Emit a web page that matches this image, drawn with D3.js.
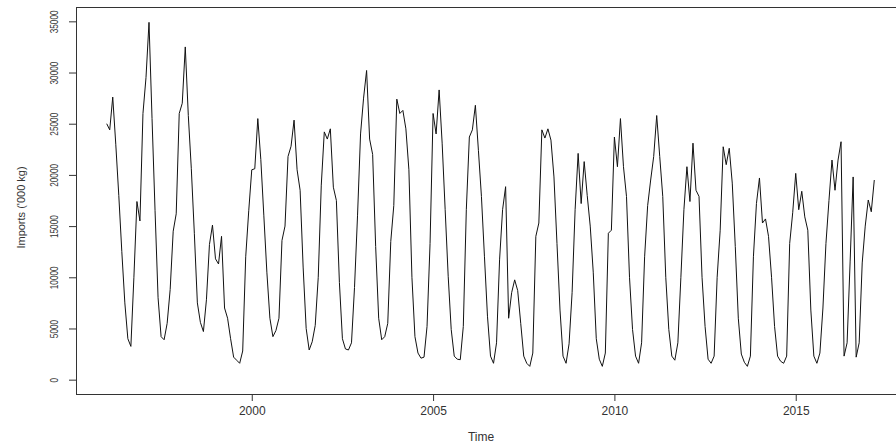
<!DOCTYPE html>
<html>
<head>
<meta charset="utf-8">
<script src="https://cdn.jsdelivr.net/npm/d3@7"></script>
<style>
  body { margin: 0; background: #fff; }
  svg { display: block; }
  text { font-family: "Liberation Sans", Arial, sans-serif; fill: #333; }
  .axis path, .axis line { stroke: #333; }
</style>
</head>
<body>
<svg width="896" height="446"></svg>
<script>
// monthly imports, Jan 1996 .. Mar 2017
var startYear = 1996;
var imports = [
  25000, 24400, 27600, 23000, 18000, 12500, 7500, 4000, 3250, 10000, 17400, 15500,
  26000, 29500, 34900, 25500, 16500, 8000, 4200, 3900, 5500, 8800, 14500, 16200,
  26000, 27000, 32500, 25800, 20600, 14300, 7500, 5600, 4700, 7800, 13200, 15100,
  11800, 11300, 14000, 7000, 6000, 4000, 2200, 1900, 1600, 2800, 12000, 16500,
  20500, 20600, 25500, 21500, 16000, 10500, 6000, 4200, 4800, 6000, 13600, 15000,
  21800, 22800, 25350, 20500, 18500, 11000, 5000, 2900, 3700, 5300, 10000, 19000,
  24200, 23500, 24500, 18800, 17500, 9500, 4000, 3000, 2900, 3600, 9000, 16000,
  24000, 27500, 30200, 23500, 22000, 13000, 6000, 3900, 4200, 5500, 13500, 17000,
  27400, 26000, 26300, 24500, 20500, 10000, 4200, 2600, 2100, 2200, 5200, 13300,
  26000, 24000, 28300, 23100, 16600, 10100, 4900, 2300, 2000, 1950, 5200, 16600,
  23700, 24400, 26800, 22400, 17900, 12000, 6200, 2300, 1600, 3600, 11700, 16600,
  18850, 6000, 8500, 9750, 8700, 5500, 2300, 1600, 1300, 2600, 14000, 15300,
  24400, 23600, 24500, 23400, 19800, 13300, 6800, 2300, 1600, 3500, 8500, 16600,
  22100, 17200, 21300, 18000, 15000, 10500, 4000, 2000, 1300, 2600, 14300, 14600,
  23700, 20800, 25500, 20800, 17900, 10000, 4900, 2300, 1600, 3600, 12000, 17000,
  19500, 21800, 25800, 21800, 17900, 10000, 4900, 2300, 1900, 3600, 10000, 16600,
  20800, 17400, 23100, 18500, 17900, 10000, 5200, 2000, 1600, 2300, 10000, 14600,
  22750, 21000, 22600, 19200, 13000, 6000, 2500, 1700, 1300, 2300, 12000, 17200,
  19700, 15300, 15700, 14000, 10000, 5200, 2300, 1800, 1600, 2300, 13300, 16300,
  20150, 16600, 18400, 15900, 14600, 6800, 2300, 1600, 2600, 7000, 13300, 17500,
  21450, 18500, 21450, 23240, 2300, 3600, 11500, 19800, 2200, 3600, 11400, 15000,
  17550, 16400, 19500
];
var xTicks = [2000, 2005, 2010, 2015];
var yTicks = [0, 5000, 10000, 15000, 20000, 25000, 30000, 35000];
var xTitle = "Time";
var yTitle = "Imports ('000 kg)";

var svg = d3.select("svg"),
    margin = {top: 7, right: -9, bottom: 52, left: 76},
    width = +svg.attr("width") - margin.left - margin.right,
    height = +svg.attr("height") - margin.top - margin.bottom;

var data = imports.map(function(v, i) {
  return {t: startYear + i / 12, v: v};
});

// R style: 4% padding on both axes, ylim = c(0, 35000)
var tExt = d3.extent(data, function(d) { return d.t; }),
    tPad = (tExt[1] - tExt[0]) * 0.04,
    yPad = 35000 * 0.04;

var x = d3.scaleLinear().domain([tExt[0] - tPad, tExt[1] + tPad]).range([0, width]);
var y = d3.scaleLinear().domain([-yPad, 35000 + yPad]).range([height, 0]);

var line = d3.line()
    .x(function(d) { return x(d.t); })
    .y(function(d) { return y(d.v); });

var g = svg.append("g")
    .attr("transform", "translate(" + margin.left + "," + margin.top + ")");

g.append("path")
    .datum(data)
    .attr("fill", "none")
    .attr("stroke", "#111")
    .attr("stroke-width", 1)
    .attr("stroke-linejoin", "round")
    .attr("d", line);

g.append("rect")
    .attr("x", 0.5)
    .attr("y", 0.5)
    .attr("width", width)
    .attr("height", height)
    .attr("fill", "none")
    .attr("stroke", "#333");

var xAxis = g.append("g")
    .attr("class", "axis")
    .attr("transform", "translate(0," + height + ")")
    .call(d3.axisBottom(x).tickValues(xTicks).tickSize(7).tickSizeOuter(0).tickPadding(5)
      .tickFormat(d3.format("d")));
xAxis.select(".domain").remove();
xAxis.selectAll("text").style("font-size", "12px");

var yAxis = g.append("g")
    .attr("class", "axis")
    .call(d3.axisLeft(y).tickValues(yTicks).tickSize(7).tickSizeOuter(0)
      .tickFormat(d3.format("d")));
yAxis.select(".domain").remove();
yAxis.selectAll("text")
    .attr("x", null)
    .attr("dy", null)
    .attr("text-anchor", "middle")
    .attr("transform", "translate(-18,0) rotate(-90) scale(0.75,1)")
    .style("font-size", "11px");

svg.append("text")
    .attr("x", 481)
    .attr("y", 441)
    .attr("text-anchor", "middle")
    .style("font-size", "12px")
    .text(xTitle);

svg.append("text")
    .attr("transform", "translate(25," + (margin.top + height / 2 + 7) + ") rotate(-90)")
    .attr("text-anchor", "middle")
    .style("font-size", "11px")
    .text(yTitle);
</script>
</body>
</html>
